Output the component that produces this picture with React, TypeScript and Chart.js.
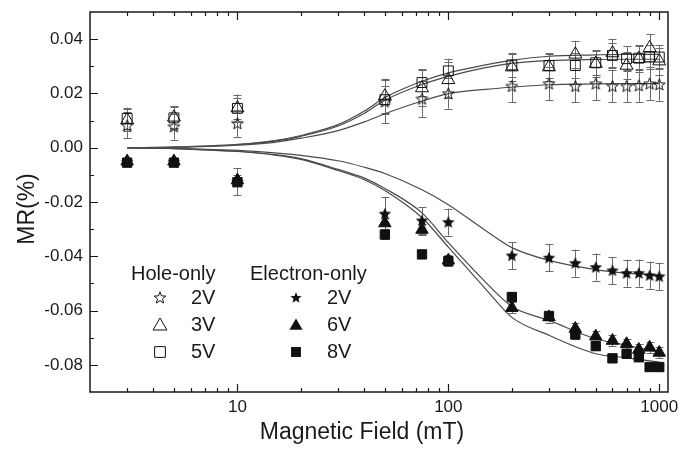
import React, { useEffect, useRef } from "react";
import { Chart, registerables } from "chart.js";

Chart.register(...registerables);

// ---- data ----
const fieldValues = [3, 5, 10, 50, 75, 100, 200, 300, 400, 500, 600, 700, 800, 900, 1000];

const hole2V = [0.0082, 0.0078, 0.009, 0.017, 0.018, 0.020, 0.0227, 0.0236, 0.0227, 0.0236, 0.0227, 0.0227, 0.0229, 0.0236, 0.0233];
const hole3V = [0.0102, 0.0112, 0.0146, 0.019, 0.022, 0.025, 0.0297, 0.0297, 0.0344, 0.031, 0.0349, 0.0303, 0.0328, 0.0368, 0.0319];
const hole5V = [0.0108, 0.011, 0.0145, 0.0177, 0.024, 0.0283, 0.0305, 0.0303, 0.0303, 0.0313, 0.034, 0.0328, 0.033, 0.0334, 0.0334];
const elec2V = [-0.0052, -0.0052, -0.0125, -0.0243, -0.0268, -0.0274, -0.0397, -0.0405, -0.0425, -0.044, -0.0452, -0.0462, -0.0462, -0.047, -0.0474];
const elec6V = [-0.005, -0.005, -0.012, -0.0278, -0.0302, -0.0415, -0.059, -0.0624, -0.0667, -0.0695, -0.0711, -0.0723, -0.0744, -0.0736, -0.0755];
const elec8V = [-0.0055, -0.0055, -0.0127, -0.032, -0.0393, -0.0418, -0.055, -0.062, -0.0688, -0.0731, -0.0776, -0.0759, -0.0772, -0.0808, -0.0808];

const hole2VErr = [0.0048, 0.0048, 0.005, 0.008, 0.0067, 0.0056, 0.006, 0.006, 0.006, 0.006, 0.006, 0.006, 0.006, 0.006, 0.006];
const hole3VErr = [0.004, 0.004, 0.005, 0.0065, 0.0065, 0.0065, 0.005, 0.005, 0.005, 0.005, 0.005, 0.005, 0.005, 0.005, 0.005];
const hole5VErr = [0.004, 0.004, 0.004, 0.005, 0.005, 0.0045, 0.0045, 0.0045, 0.0045, 0.0045, 0.0045, 0.0045, 0.0045, 0.0045, 0.0045];
const elec2VErr = [0.001, 0.001, 0.005, 0.0062, 0.005, 0.005, 0.005, 0.005, 0.005, 0.005, 0.005, 0.005, 0.005, 0.005, 0.005];
const elec6VErr = [0.001, 0.001, 0.002, 0.002, 0.002, 0.002, 0.002, 0.002, 0.002, 0.002, 0.002, 0.002, 0.002, 0.002, 0.002];
const elec8VErr = [0.001, 0.001, 0.0015, 0.0015, 0.0015, 0.0015, 0.0015, 0.0015, 0.0015, 0.0015, 0.0015, 0.0015, 0.0015, 0.0015, 0.0015];

// fitted curves
const fitField = [3, 5, 10, 15, 20, 30, 40, 50, 75, 100, 150, 200, 300, 500, 700, 1000];
const fitHole5V = [0, 0.0002, 0.0012, 0.0026, 0.0045, 0.0085, 0.0135, 0.0185, 0.0245, 0.0276, 0.0305, 0.0322, 0.0337, 0.0342, 0.0344, 0.0344];
const fitHole3V = [0, 0.0002, 0.0011, 0.0024, 0.0042, 0.008, 0.0127, 0.0175, 0.0233, 0.0263, 0.0295, 0.0311, 0.0321, 0.0325, 0.0326, 0.0326];
const fitHole2V = [0, 0.0001, 0.0009, 0.002, 0.0035, 0.0063, 0.0095, 0.0125, 0.0172, 0.0199, 0.0215, 0.0223, 0.0232, 0.0235, 0.0236, 0.0236];
const fitElec2V = [0, -0.0002, -0.001, -0.0019, -0.0028, -0.0048, -0.0072, -0.0095, -0.0155, -0.021, -0.0305, -0.0368, -0.0415, -0.0449, -0.0462, -0.047];
const fitElec6V = [0, -0.0003, -0.0013, -0.0025, -0.004, -0.008, -0.0112, -0.015, -0.024, -0.035, -0.0495, -0.0585, -0.0636, -0.0704, -0.0728, -0.0753];
const fitElec8V = [0, -0.0003, -0.0014, -0.0027, -0.0043, -0.0084, -0.0118, -0.0158, -0.0258, -0.0366, -0.052, -0.0625, -0.0691, -0.0759, -0.0774, -0.079];

const yTickValues = [-0.08, -0.06, -0.04, -0.02, 0, 0.02, 0.04];
const yMinorValues = [-0.07, -0.05, -0.03, -0.01, 0.01, 0.03];
const xTickValues = [10, 100, 1000];
const xMinorValues = [3, 4, 5, 6, 7, 8, 9, 20, 30, 40, 50, 60, 70, 80, 90, 200, 300, 400, 500, 600, 700, 800, 900];

const xTitle = "Magnetic Field (mT)";
const yTitle = "MR(%)";
const holeTitle = "Hole-only";
const elecTitle = "Electron-only";
const holeLabels = ["2V", "3V", "5V"];
const elecLabels = ["2V", "6V", "8V"];

const FONT = "'Liberation Sans', Arial, Helvetica, sans-serif";
const INK = "#111";

function shapePath(ctx: CanvasRenderingContext2D, kind: string, x: number, y: number, r: number, ratio = 0.42) {
  ctx.beginPath();
  if (kind === "star") {
    for (let i = 0; i < 10; i++) {
      const rr = i % 2 === 0 ? r : r * ratio;
      const a = -Math.PI / 2 + (i * Math.PI) / 5;
      const px = x + rr * Math.cos(a);
      const py = y + rr * Math.sin(a);
      if (i === 0) ctx.moveTo(px, py);
      else ctx.lineTo(px, py);
    }
  } else if (kind === "tri") {
    for (let i = 0; i < 3; i++) {
      const a = -Math.PI / 2 + (i * 2 * Math.PI) / 3;
      const px = x + r * Math.cos(a);
      const py = y + r * Math.sin(a);
      if (i === 0) ctx.moveTo(px, py);
      else ctx.lineTo(px, py);
    }
  } else {
    const s = r * Math.SQRT1_2;
    ctx.rect(x - s, y - s, 2 * s, 2 * s);
  }
  ctx.closePath();
}

function drawShape(ctx: CanvasRenderingContext2D, kind: string, x: number, y: number, r: number, filled: boolean, ratio?: number) {
  shapePath(ctx, kind, x, y, r, ratio);
  if (filled) {
    ctx.fillStyle = INK;
    ctx.fill();
  } else {
    ctx.strokeStyle = INK;
    ctx.lineWidth = 1;
    ctx.stroke();
  }
}

function makeStar(r: number, filled: boolean, ratio: number) {
  const size = Math.ceil(r * 2 + 4);
  const c = document.createElement("canvas");
  c.width = size;
  c.height = size;
  const ctx = c.getContext("2d")!;
  drawShape(ctx, "star", size / 2, size / 2 + 0.5, r, filled, ratio);
  return c;
}

const pts = (xs: number[], ys: number[]) => xs.map((x, i) => ({ x, y: ys[i] }));

export default function App() {
  const ref = useRef<HTMLCanvasElement>(null);

  useEffect(() => {
    const canvas = ref.current;
    if (!canvas) return;
    const openStar = makeStar(6.2, false, 0.42);
    const solidStar = makeStar(6.6, true, 0.45);

    const fitStyle = {
      showLine: true,
      pointRadius: 0,
      borderColor: "#4a4a4a",
      borderWidth: 1.2,
      cubicInterpolationMode: "monotone" as const,
      fill: false,
    };
    const open = { backgroundColor: "rgba(0,0,0,0)", borderColor: INK, borderWidth: 1 };
    const solid = { backgroundColor: INK, borderColor: INK, borderWidth: 1 };

    const datasets: any[] = [
      { label: "Hole 2V", data: pts(fieldValues, hole2V), errors: hole2VErr, pointStyle: openStar, pointRadius: 6, ...open },
      { label: "Hole 3V", data: pts(fieldValues, hole3V), errors: hole3VErr, pointStyle: "triangle", pointRadius: 7.5, ...open },
      { label: "Hole 5V", data: pts(fieldValues, hole5V), errors: hole5VErr, pointStyle: "rect", pointRadius: 7, ...open },
      { label: "Electron 2V", data: pts(fieldValues, elec2V), errors: elec2VErr, pointStyle: solidStar, pointRadius: 6, ...solid },
      { label: "Electron 6V", data: pts(fieldValues, elec6V), errors: elec6VErr, pointStyle: "triangle", pointRadius: 7.2, ...solid },
      { label: "Electron 8V", data: pts(fieldValues, elec8V), errors: elec8VErr, pointStyle: "rect", pointRadius: 6.6, ...solid },
      { label: "fit h5", data: pts(fitField, fitHole5V), ...fitStyle },
      { label: "fit h3", data: pts(fitField, fitHole3V), ...fitStyle },
      { label: "fit h2", data: pts(fitField, fitHole2V), ...fitStyle },
      { label: "fit e2", data: pts(fitField, fitElec2V), ...fitStyle },
      { label: "fit e6", data: pts(fitField, fitElec6V), ...fitStyle },
      { label: "fit e8", data: pts(fitField, fitElec8V), ...fitStyle },
    ];

    const errorBars = {
      id: "errorBars",
      beforeDatasetsDraw(chart: any) {
        const ctx = chart.ctx;
        const xs = chart.scales.x;
        const ys = chart.scales.y;
        ctx.save();
        ctx.strokeStyle = "#6a6a6a";
        ctx.lineWidth = 1;
        chart.data.datasets.forEach((ds: any) => {
          if (!ds.errors) return;
          ds.data.forEach((p: any, i: number) => {
            const e = ds.errors[i];
            const px = Math.round(xs.getPixelForValue(p.x)) + 0.5;
            const y1 = ys.getPixelForValue(p.y + e);
            const y2 = ys.getPixelForValue(p.y - e);
            ctx.beginPath();
            ctx.moveTo(px, y1);
            ctx.lineTo(px, y2);
            ctx.moveTo(px - 4, Math.round(y1) + 0.5);
            ctx.lineTo(px + 4, Math.round(y1) + 0.5);
            ctx.moveTo(px - 4, Math.round(y2) + 0.5);
            ctx.lineTo(px + 4, Math.round(y2) + 0.5);
            ctx.stroke();
          });
        });
        ctx.restore();
      },
    };

    const decor = {
      id: "decor",
      afterDraw(chart: any) {
        const ctx = chart.ctx;
        const a = chart.chartArea;
        const xs = chart.scales.x;
        const ys = chart.scales.y;
        ctx.save();
        // frame
        ctx.strokeStyle = "#1a1a1a";
        ctx.lineWidth = 1.5;
        ctx.strokeRect(a.left, a.top, a.right - a.left, a.bottom - a.top);
        // ticks (inward)
        ctx.lineWidth = 1.2;
        ctx.beginPath();
        const xTick = (v: number, len: number) => {
          const px = Math.round(xs.getPixelForValue(v)) + 0.5;
          ctx.moveTo(px, a.bottom);
          ctx.lineTo(px, a.bottom - len);
          ctx.moveTo(px, a.top);
          ctx.lineTo(px, a.top + len);
        };
        xTickValues.forEach((v) => xTick(v, 8));
        xMinorValues.forEach((v) => xTick(v, 4));
        const yTick = (v: number, len: number) => {
          const py = Math.round(ys.getPixelForValue(v)) + 0.5;
          ctx.moveTo(a.left, py);
          ctx.lineTo(a.left + len, py);
        };
        yTickValues.forEach((v) => yTick(v, 8));
        yMinorValues.forEach((v) => yTick(v, 4));
        ctx.stroke();

        // axis titles
        ctx.fillStyle = "#1a1a1a";
        ctx.font = `23px ${FONT}`;
        ctx.textAlign = "center";
        ctx.textBaseline = "middle";
        ctx.fillText(xTitle, 362, 433);
        ctx.save();
        ctx.translate(28, 209);
        ctx.rotate(-Math.PI / 2);
        ctx.fillText(yTitle, 0, 0);
        ctx.restore();

        // legend
        ctx.font = `20px ${FONT}`;
        ctx.textAlign = "left";
        ctx.textBaseline = "middle";
        ctx.fillText(holeTitle, 131, 274);
        ctx.fillText(elecTitle, 250, 274);
        const rows = [298, 325, 352];
        const holeKinds = ["star", "tri", "rect"];
        const holeR = [6.2, 8, 7.6];
        const elecR = [6, 7.6, 7];
        rows.forEach((ry, i) => {
          drawShape(ctx, holeKinds[i], 160, ry + (i === 1 ? 1 : 0), holeR[i], false, 0.42);
          ctx.fillStyle = "#1a1a1a";
          ctx.fillText(holeLabels[i], 191, ry);
          drawShape(ctx, holeKinds[i], 296, ry + (i === 1 ? 1 : 0), elecR[i], true, 0.42);
          ctx.fillStyle = "#1a1a1a";
          ctx.fillText(elecLabels[i], 327, ry);
        });
        ctx.restore();
      },
    };

    const chart = new Chart(canvas, {
      type: "scatter",
      data: { datasets },
      options: {
        responsive: false,
        animation: false,
        devicePixelRatio: 1,
        layout: { padding: { left: 0, right: 12, top: 12, bottom: 0 } },
        plugins: { legend: { display: false }, tooltip: { enabled: false } },
        scales: {
          x: {
            type: "logarithmic",
            min: 2,
            max: 1100,
            grid: { display: false, drawTicks: false },
            border: { display: false },
            ticks: {
              color: "#1a1a1a",
              font: { family: FONT, size: 17 },
              padding: 5,
              autoSkip: false,
              maxRotation: 0,
              callback: (v: any) => String(v),
            },
            afterBuildTicks: (s: any) => {
              s.ticks = xTickValues.map((v) => ({ value: v }));
            },
            afterFit: (s: any) => {
              s.height = 58;
              s.paddingLeft = 0;
              s.paddingRight = 0;
            },
          },
          y: {
            type: "linear",
            min: -0.09,
            max: 0.05,
            grid: { display: false, drawTicks: false },
            border: { display: false },
            ticks: {
              color: "#1a1a1a",
              font: { family: FONT, size: 17 },
              padding: 7,
              callback: (v: any) => Number(v).toFixed(2),
            },
            afterBuildTicks: (s: any) => {
              s.ticks = yTickValues.map((v) => ({ value: v }));
            },
            afterFit: (s: any) => {
              s.width = 90;
              s.paddingTop = 0;
              s.paddingBottom = 0;
            },
          },
        },
      } as any,
      plugins: [errorBars, decor],
    });

    return () => chart.destroy();
  }, []);

  return (
    <div style={{ position: "absolute", left: 0, top: 0, width: 680, height: 450, background: "#fff" }}>
      <canvas ref={ref} width={680} height={450} style={{ display: "block" }} />
    </div>
  );
}
